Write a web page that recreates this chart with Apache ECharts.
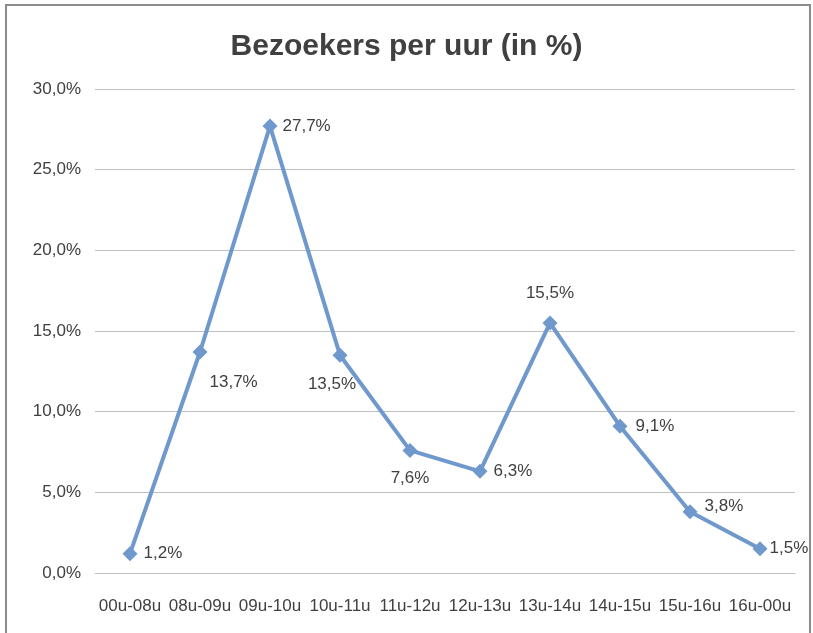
<!DOCTYPE html>
<html>
<head>
<meta charset="utf-8">
<script src="https://cdn.jsdelivr.net/npm/echarts@6/dist/echarts.min.js"></script>
<style>
  html, body { margin: 0; padding: 0; background: #fff; }
  #main { width: 813px; height: 633px; }
</style>
</head>
<body>
<div id="main"></div>
<script>
// data
var categories = ['00u-08u', '08u-09u', '09u-10u', '10u-11u', '11u-12u', '12u-13u', '13u-14u', '14u-15u', '15u-16u', '16u-00u'];
var visitors = [1.2, 13.7, 27.7, 13.5, 7.6, 6.3, 15.5, 9.1, 3.8, 1.5];
var yTicks = [0, 5, 10, 15, 20, 25, 30];

// where each value label sits, like in the excel chart
var labelPlace = [
  { position: 'right', distance: 6 },
  { position: 'right', distance: 2, offset: [0, 30] },
  { position: 'right', distance: 5 },
  { position: 'bottom', distance: 13, offset: [-8, 0] },
  { position: 'bottom', distance: 12 },
  { position: 'right', distance: 6 },
  { position: 'top', distance: 14 },
  { position: 'right', distance: 8 },
  { position: 'right', distance: 7, offset: [0, -5] },
  { position: 'right', distance: 2 }
];

function pct(v) {
  return v.toFixed(1).replace('.', ',') + '%';
}

var chart = echarts.init(document.getElementById('main'));

var seriesData = visitors.map(function (v, i) {
  return { value: v, label: labelPlace[i] };
});

var option = {
  backgroundColor: '#fff',
  animation: false,
  textStyle: { fontFamily: 'Liberation Sans' },
  title: {
    text: 'Bezoekers per uur (in %)',
    left: 'center',
    top: 27,
    textStyle: { fontSize: 30, fontWeight: 'bold', color: '#404040', fontFamily: 'Liberation Sans' }
  },
  graphic: [{
    type: 'rect',
    shape: { x: 6, y: 5, width: 804, height: 660 },
    style: { fill: 'none', stroke: '#8c8c8c', lineWidth: 2 },
    silent: true
  }],
  grid: { left: 95, right: 18, top: 89, bottom: 60 },
  xAxis: {
    type: 'category',
    data: categories,
    boundaryGap: true,
    axisLine: { lineStyle: { color: '#bfbfbf', width: 1 } },
    axisTick: { show: false },
    axisLabel: { interval: 0, color: '#404040', fontSize: 17, margin: 25 }
  },
  yAxis: {
    type: 'value',
    min: yTicks[0],
    max: yTicks[yTicks.length - 1],
    interval: 5,
    axisLine: { show: false },
    axisTick: { show: false },
    splitLine: { lineStyle: { color: '#bfbfbf', width: 1 } },
    axisLabel: { color: '#404040', fontSize: 17, margin: 14, formatter: function (v) { return pct(v); } }
  },
  series: [{
    type: 'line',
    data: seriesData,
    symbol: 'diamond',
    symbolSize: 15,
    lineStyle: { color: '#6f98cc', width: 4 },
    itemStyle: { color: '#6f98cc' },
    label: {
      show: true,
      color: '#404040',
      fontSize: 17,
      formatter: function (p) { return pct(p.value); }
    }
  }]
};

chart.setOption(option);
</script>
</body>
</html>
